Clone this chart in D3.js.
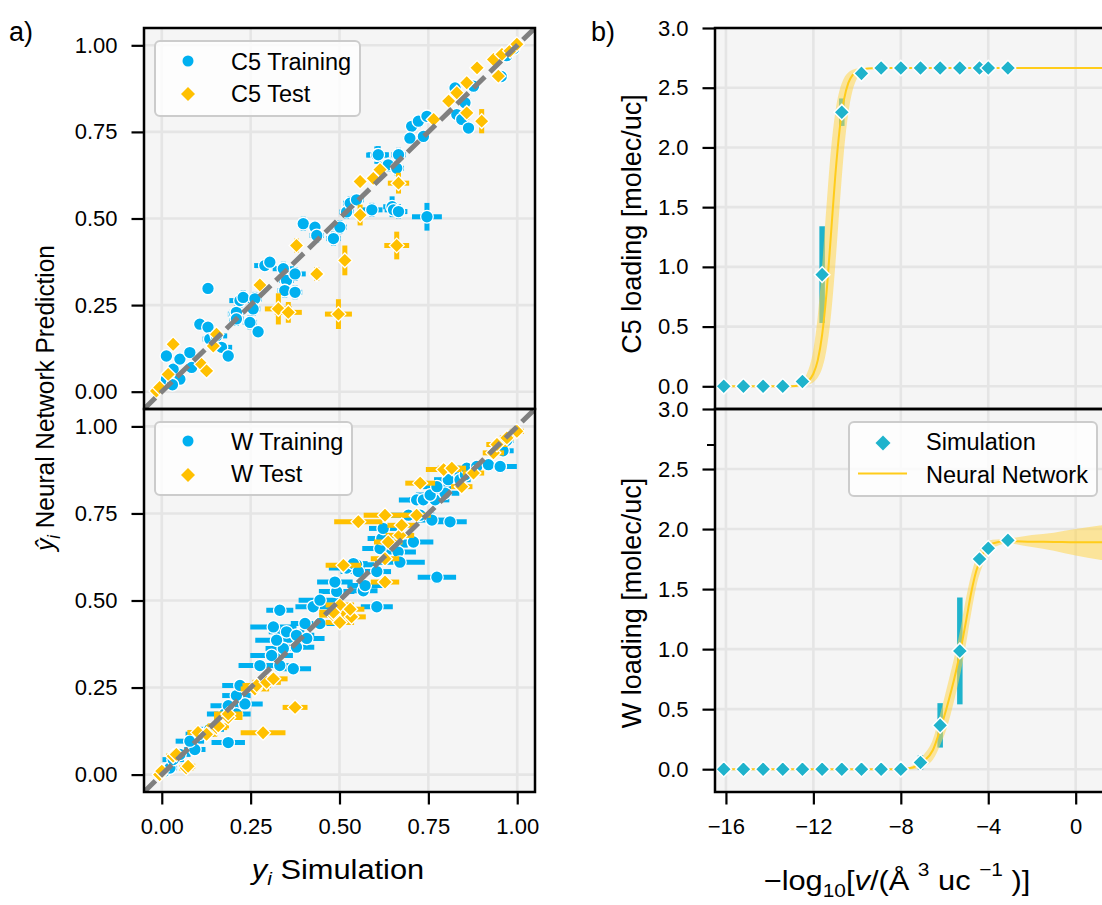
<!DOCTYPE html>
<html>
<head>
<meta charset="utf-8">
<script src="https://cdn.jsdelivr.net/npm/d3@7"></script>
<style>
  body { margin: 0; background: #fff; }
  svg { font-family: "Liberation Sans", Arial, sans-serif; }
</style>
</head>
<body>
<svg id="fig" width="1102" height="905"></svg>
<script>
// parity data: [simulation, prediction, x error, y error]
var c5Train = [
  [0.013, 0.036, 0.01, 0.01], [0.051, 0.036, 0.01, 0.01], [0.03, 0.02, 0.01, 0.01],
  [0.032, 0.065, 0.012, 0.012], [0.084, 0.07, 0.015, 0.012], [0.013, 0.103, 0.01, 0.01],
  [0.051, 0.094, 0.012, 0.012], [0.079, 0.113, 0.015, 0.015], [0.107, 0.195, 0.015, 0.015],
  [0.13, 0.186, 0.015, 0.015], [0.135, 0.152, 0.02, 0.015], [0.154, 0.161, 0.03, 0.015],
  [0.168, 0.128, 0.03, 0.015], [0.187, 0.103, 0.015, 0.015], [0.13, 0.298, 0.015, 0.015],
  [0.206, 0.224, 0.02, 0.02], [0.21, 0.229, 0.02, 0.02], [0.22, 0.263, 0.03, 0.02],
  [0.229, 0.272, 0.02, 0.02], [0.262, 0.268, 0.02, 0.02], [0.257, 0.239, 0.02, 0.02],
  [0.248, 0.2, 0.02, 0.02], [0.271, 0.173, 0.015, 0.015], [0.29, 0.364, 0.03, 0.015],
  [0.304, 0.374, 0.015, 0.015], [0.342, 0.355, 0.03, 0.02], [0.351, 0.321, 0.02, 0.02],
  [0.375, 0.34, 0.03, 0.02], [0.346, 0.292, 0.02, 0.02], [0.375, 0.287, 0.02, 0.02],
  [0.398, 0.485, 0.015, 0.02], [0.431, 0.475, 0.015, 0.015], [0.436, 0.451, 0.02, 0.02],
  [0.483, 0.442, 0.02, 0.02], [0.501, 0.475, 0.02, 0.02], [0.52, 0.519, 0.02, 0.02],
  [0.53, 0.544, 0.02, 0.02], [0.548, 0.554, 0.02, 0.015], [0.591, 0.525, 0.03, 0.02],
  [0.648, 0.534, 0.025, 0.03], [0.652, 0.525, 0.025, 0.02], [0.666, 0.52, 0.025, 0.02],
  [0.746, 0.505, 0.042, 0.04], [0.605, 0.683, 0.03, 0.025], [0.609, 0.684, 0.03, 0.025],
  [0.637, 0.655, 0.02, 0.02], [0.661, 0.645, 0.02, 0.02], [0.666, 0.684, 0.02, 0.02],
  [0.703, 0.766, 0.015, 0.015], [0.722, 0.781, 0.015, 0.015], [0.698, 0.732, 0.015, 0.015],
  [0.736, 0.737, 0.015, 0.015], [0.746, 0.795, 0.015, 0.015], [0.825, 0.877, 0.015, 0.015],
  [0.877, 0.882, 0.015, 0.015], [0.853, 0.834, 0.015, 0.015], [0.83, 0.8, 0.015, 0.015],
  [0.844, 0.786, 0.015, 0.015], [0.863, 0.761, 0.015, 0.015], [0.955, 0.91, 0.015, 0.015],
  [0.99, 0.99, 0.01, 0.01], [0.97, 0.97, 0.01, 0.01], [0.21, 0.21, 0.02, 0.02]
]
var c5Test = [
  [-0.015, 0.002, 0.01, 0.01], [-0.006, 0.012, 0.01, 0.01], [0.018, 0.05, 0.01, 0.01],
  [0.032, 0.137, 0.01, 0.01], [0.112, 0.079, 0.01, 0.01], [0.126, 0.06, 0.01, 0.01],
  [0.145, 0.132, 0.015, 0.015], [0.154, 0.166, 0.015, 0.015], [0.276, 0.308, 0.015, 0.015],
  [0.328, 0.239, 0.038, 0.045], [0.356, 0.229, 0.038, 0.03], [0.379, 0.422, 0.015, 0.02],
  [0.436, 0.34, 0.015, 0.02], [0.497, 0.224, 0.038, 0.043], [0.515, 0.379, 0.01, 0.043],
  [0.558, 0.51, 0.015, 0.03], [0.558, 0.607, 0.015, 0.015], [0.595, 0.616, 0.015, 0.015],
  [0.614, 0.641, 0.015, 0.015], [0.666, 0.602, 0.03, 0.03], [0.661, 0.422, 0.035, 0.04],
  [0.765, 0.786, 0.015, 0.015], [0.807, 0.839, 0.015, 0.015], [0.83, 0.863, 0.015, 0.015],
  [0.858, 0.892, 0.015, 0.015], [0.858, 0.805, 0.015, 0.02], [0.9, 0.781, 0.015, 0.035],
  [0.887, 0.935, 0.015, 0.015], [0.947, 0.911, 0.015, 0.015], [0.933, 0.959, 0.015, 0.015],
  [0.957, 0.974, 0.01, 0.01], [0.98, 0.984, 0.01, 0.01], [0.999, 1.003, 0.01, 0.01]
]
var wTrain = [
  [0.008, 0.01, 0.02, 0.01], [0.023, 0.019, 0.02, 0.01], [0.032, 0.043, 0.03, 0.01],
  [0.051, 0.058, 0.03, 0.01], [0.093, 0.072, 0.03, 0.01], [0.079, 0.096, 0.04, 0.01],
  [0.107, 0.116, 0.04, 0.01], [0.135, 0.13, 0.04, 0.01], [0.187, 0.092, 0.047, 0.01],
  [0.177, 0.174, 0.05, 0.01], [0.21, 0.174, 0.04, 0.01], [0.187, 0.198, 0.05, 0.01],
  [0.234, 0.203, 0.05, 0.01], [0.21, 0.227, 0.04, 0.01], [0.22, 0.256, 0.05, 0.01],
  [0.276, 0.313, 0.06, 0.01], [0.332, 0.313, 0.04, 0.01], [0.37, 0.304, 0.05, 0.01],
  [0.309, 0.342, 0.06, 0.01], [0.342, 0.362, 0.05, 0.01], [0.379, 0.366, 0.05, 0.01],
  [0.323, 0.386, 0.06, 0.01], [0.351, 0.41, 0.05, 0.01], [0.379, 0.4, 0.05, 0.01],
  [0.408, 0.391, 0.05, 0.01], [0.314, 0.424, 0.065, 0.01], [0.332, 0.472, 0.038, 0.01],
  [0.403, 0.434, 0.04, 0.01], [0.445, 0.434, 0.05, 0.01], [0.426, 0.482, 0.05, 0.01],
  [0.445, 0.501, 0.06, 0.01], [0.492, 0.526, 0.05, 0.01], [0.487, 0.553, 0.05, 0.01],
  [0.52, 0.593, 0.05, 0.01], [0.548, 0.603, 0.05, 0.01], [0.539, 0.606, 0.04, 0.01],
  [0.553, 0.583, 0.05, 0.01], [0.567, 0.528, 0.04, 0.01], [0.572, 0.543, 0.05, 0.01],
  [0.605, 0.482, 0.045, 0.01], [0.605, 0.583, 0.04, 0.01], [0.614, 0.649, 0.05, 0.01],
  [0.619, 0.678, 0.04, 0.01], [0.623, 0.707, 0.04, 0.01], [0.652, 0.659, 0.04, 0.01],
  [0.665, 0.639, 0.05, 0.01], [0.67, 0.61, 0.07, 0.01], [0.694, 0.745, 0.05, 0.01],
  [0.708, 0.668, 0.056, 0.01], [0.727, 0.745, 0.04, 0.01], [0.76, 0.731, 0.04, 0.01],
  [0.811, 0.726, 0.047, 0.01], [0.717, 0.789, 0.05, 0.01], [0.736, 0.789, 0.04, 0.01],
  [0.769, 0.789, 0.04, 0.01], [0.755, 0.803, 0.04, 0.01], [0.797, 0.808, 0.04, 0.01],
  [0.774, 0.827, 0.04, 0.01], [0.806, 0.847, 0.04, 0.01], [0.839, 0.847, 0.03, 0.01],
  [0.854, 0.861, 0.03, 0.01], [0.858, 0.88, 0.03, 0.01], [0.886, 0.885, 0.03, 0.01],
  [0.919, 0.89, 0.03, 0.01], [0.952, 0.885, 0.047, 0.01], [0.774, 0.567, 0.054, 0.01],
  [0.971, 0.96, 0.02, 0.01], [0.96, 0.93, 0.03, 0.01]
]
var wTest = [
  [-0.006, 0.0, 0.015, 0.01], [0.0, 0.01, 0.015, 0.01], [0.032, 0.053, 0.02, 0.01],
  [0.041, 0.058, 0.02, 0.01], [0.069, 0.019, 0.02, 0.01], [0.074, 0.024, 0.02, 0.01],
  [0.102, 0.121, 0.03, 0.01], [0.126, 0.116, 0.03, 0.01], [0.154, 0.135, 0.03, 0.01],
  [0.159, 0.14, 0.03, 0.01], [0.187, 0.164, 0.04, 0.01], [0.187, 0.174, 0.04, 0.01],
  [0.262, 0.246, 0.04, 0.01], [0.267, 0.256, 0.04, 0.01], [0.295, 0.265, 0.04, 0.01],
  [0.314, 0.275, 0.04, 0.01], [0.285, 0.12, 0.063, 0.01], [0.375, 0.193, 0.035, 0.01],
  [0.483, 0.458, 0.04, 0.01], [0.501, 0.487, 0.04, 0.01], [0.483, 0.466, 0.04, 0.01],
  [0.501, 0.437, 0.04, 0.01], [0.534, 0.453, 0.04, 0.01], [0.53, 0.475, 0.04, 0.01],
  [0.511, 0.601, 0.05, 0.01], [0.553, 0.726, 0.068, 0.01], [0.628, 0.745, 0.06, 0.01],
  [0.628, 0.62, 0.04, 0.01], [0.628, 0.553, 0.04, 0.01], [0.637, 0.668, 0.04, 0.01],
  [0.67, 0.687, 0.04, 0.01], [0.675, 0.716, 0.04, 0.01], [0.717, 0.745, 0.04, 0.01],
  [0.727, 0.837, 0.042, 0.01], [0.793, 0.876, 0.05, 0.01], [0.816, 0.88, 0.04, 0.01],
  [0.844, 0.827, 0.03, 0.01], [0.877, 0.866, 0.03, 0.01], [0.933, 0.924, 0.03, 0.01],
  [0.943, 0.948, 0.03, 0.01], [0.971, 0.967, 0.02, 0.01], [0.999, 0.986, 0.02, 0.01]
]

// isotherm data
var simX = [-16.1, -15.2, -14.3, -13.4, -12.5, -11.6, -10.7, -9.8, -8.9, -8.0, -7.1, -6.2, -5.3, -4.4, -4.0, -3.1]
var c5Sim = [0, 0, 0, 0, 0.04, 0.935, 2.295, 2.62, 2.665, 2.665, 2.665, 2.665, 2.665, 2.665, 2.665, 2.665]
var c5SimErr = [0, 0, 0, 0, 0.01, 0.405, 0.115, 0.01, 0, 0, 0, 0, 0, 0, 0, 0]
var wSim = [0, 0, 0, 0, 0, 0, 0, 0, 0, 0, 0.056, 0.365, 0.985, 1.75, 1.84, 1.906]
var wSimErr = [0, 0, 0, 0, 0, 0, 0, 0, 0, 0, 0.06, 0.185, 0.445, 0.02, 0.01, 0.01]

var nnC5X = [-16.5, -13, -12.6, -12.3, -12.0, -11.8, -11.6, -11.4, -11.2, -11.0, -10.8, -10.6, -10.4, -10.2, -10.0, -9.7, -9.3, -8.5, 5]
var nnC5 = [0, 0, 0.01, 0.034, 0.105, 0.217, 0.43, 0.78, 1.26, 1.757, 2.15, 2.40, 2.54, 2.607, 2.64, 2.655, 2.662, 2.665, 2.665]
var nnC5Lo = [0, 0, 0.004, 0.011, 0.034, 0.073, 0.152, 0.307, 0.585, 1.008, 1.51, 1.97, 2.29, 2.48, 2.58, 2.64, 2.66, 2.665, 2.665]
var nnC5Hi = [0, 0.007, 0.034, 0.105, 0.307, 0.585, 1.008, 1.51, 1.97, 2.29, 2.48, 2.58, 2.627, 2.65, 2.66, 2.665, 2.665, 2.665, 2.665]

var nnWX = [-16.5, -8.0, -7.45, -7.0, -6.53, -6.2, -5.92, -5.47, -5.27, -5.01, -4.78, -4.55, -4.25, -3.8, -3.11, -2, -1, 0, 1.1, 2.5]
var nnW = [0, 0, 0.014, 0.06, 0.16, 0.33, 0.5, 0.82, 0.99, 1.24, 1.47, 1.65, 1.79, 1.88, 1.90, 1.895, 1.893, 1.89, 1.89, 1.89]
var nnWLo = [0, 0, 0, 0.02, 0.08, 0.2, 0.33, 0.64, 0.8, 1.05, 1.3, 1.52, 1.70, 1.84, 1.88, 1.85, 1.82, 1.78, 1.745, 1.71]
var nnWHi = [0, 0, 0.03, 0.11, 0.25, 0.46, 0.66, 1.0, 1.17, 1.43, 1.62, 1.76, 1.86, 1.91, 1.92, 1.95, 1.97, 2.0, 2.03, 2.06]

var parityTicks = [0, 0.25, 0.5, 0.75, 1.0]
var loadTicks = [0, 0.5, 1, 1.5, 2, 2.5, 3]
var pressTicks = [-16, -12, -8, -4, 0]

var svg = d3.select("#fig")
var bg = "#f5f5f5", gridColor = "#e5e5e5"
var blue = "#00b0f0", orange = "#ffc000", teal = "#1fb3cc", gold = "#ffcc1a"
var tickFont = 22, labelFont = 27, legendFont = 23.5

var bgLayer = svg.append("g")
var dataLayer = svg.append("g")
var axisLayer = svg.append("g")

function diamond(r) {
  return "M0," + (-r) + "L" + r + ",0L0," + r + "L" + (-r) + ",0Z"
}

// one set of axes
function makePanel(id, xr, yr, xd, yd, xt, yt, xfmt, yfmt) {
  var x = d3.scaleLinear().domain(xd).range(xr)
  var y = d3.scaleLinear().domain(yd).range([yr[1], yr[0]])
  var w = xr[1] - xr[0], h = yr[1] - yr[0]

  bgLayer.append("rect").attr("x", xr[0]).attr("y", yr[0]).attr("width", w).attr("height", h).attr("fill", bg)
  bgLayer.append("g").selectAll("line").data(xt).join("line")
    .attr("x1", d => x(d)).attr("x2", d => x(d)).attr("y1", yr[0]).attr("y2", yr[1])
    .attr("stroke", gridColor).attr("stroke-width", 2.6)
  bgLayer.append("g").selectAll("line").data(yt).join("line")
    .attr("y1", d => y(d)).attr("y2", d => y(d)).attr("x1", xr[0]).attr("x2", xr[1])
    .attr("stroke", gridColor).attr("stroke-width", 2.6)

  svg.append("clipPath").attr("id", id).append("rect")
    .attr("x", xr[0]).attr("y", yr[0]).attr("width", w).attr("height", h)
  var g = dataLayer.append("g").attr("clip-path", "url(#" + id + ")")

  axisLayer.append("rect").attr("x", xr[0]).attr("y", yr[0]).attr("width", w).attr("height", h)
    .attr("fill", "none").attr("stroke", "#000").attr("stroke-width", 2.5)

  var ya = axisLayer.append("g").attr("transform", "translate(" + xr[0] + ",0)")
    .call(d3.axisLeft(y).tickValues(yt).tickFormat(yfmt).tickSize(12.5).tickPadding(14))
  styleAxis(ya)
  if (xfmt) {
    var xa = axisLayer.append("g").attr("transform", "translate(0," + yr[1] + ")")
      .call(d3.axisBottom(x).tickValues(xt).tickFormat(xfmt).tickSize(12.5).tickPadding(14))
    styleAxis(xa)
  }
  return {g: g, x: x, y: y, xr: xr, yr: yr}
}

function styleAxis(a) {
  a.attr("font-family", null).attr("font-size", null)
  a.select(".domain").remove()
  a.selectAll(".tick line").attr("stroke-width", 2.2)
  a.selectAll(".tick text").attr("font-size", tickFont).attr("fill", "#000")
}

function errorBars(p, data, color) {
  var g = p.g.append("g").attr("stroke", color).attr("stroke-width", 5)
  g.selectAll(".h").data(data).join("line").attr("class", "h")
    .attr("x1", d => p.x(d[0] - d[2])).attr("x2", d => p.x(d[0] + d[2]))
    .attr("y1", d => p.y(d[1])).attr("y2", d => p.y(d[1]))
  g.selectAll(".v").data(data).join("line").attr("class", "v")
    .attr("x1", d => p.x(d[0])).attr("x2", d => p.x(d[0]))
    .attr("y1", d => p.y(d[1] - d[3])).attr("y2", d => p.y(d[1] + d[3]))
}

function parity(p, train, test) {
  errorBars(p, train, blue)
  p.g.append("g").selectAll("circle").data(train).join("circle")
    .attr("cx", d => p.x(d[0])).attr("cy", d => p.y(d[1])).attr("r", 6.3)
    .attr("fill", blue).attr("stroke", "#fff").attr("stroke-width", 1.3)
  errorBars(p, test, orange)
  p.g.append("g").selectAll("path").data(test).join("path")
    .attr("transform", d => "translate(" + p.x(d[0]) + "," + p.y(d[1]) + ")")
    .attr("d", diamond(7.4))
    .attr("fill", orange).attr("stroke", "#fff").attr("stroke-width", 1.3)
  p.g.append("line")
    .attr("x1", p.x(-0.05)).attr("y1", p.y(-0.05)).attr("x2", p.x(1.05)).attr("y2", p.y(1.05))
    .attr("stroke", "#808080").attr("stroke-width", 5).attr("stroke-dasharray", "16,7")
}

function loading(p, sim, err, nnx, nn, lo, hi) {
  var pts = simX.map((v, i) => [v, sim[i], err[i]])
  p.g.append("g").selectAll("line").data(pts.filter(d => d[2] > 0.02)).join("line")
    .attr("x1", d => p.x(d[0])).attr("x2", d => p.x(d[0]))
    .attr("y1", d => p.y(d[1] - d[2])).attr("y2", d => p.y(d[1] + d[2]))
    .attr("stroke", teal).attr("stroke-width", 5.5)
  var band = nnx.map((v, i) => [v, nn[i], lo[i], hi[i]])
  var area = d3.area().curve(d3.curveMonotoneX)
    .x(d => p.x(d[0])).y0(d => p.y(d[2])).y1(d => p.y(d[3]))
  var line = d3.line().curve(d3.curveMonotoneX).x(d => p.x(d[0])).y(d => p.y(d[1]))
  p.g.append("path").datum(band).attr("d", area).attr("fill", "#ffd54f").attr("fill-opacity", 0.55)
  p.g.append("path").datum(band).attr("d", line).attr("fill", "none").attr("stroke", gold).attr("stroke-width", 2)
  p.g.append("g").selectAll("path").data(pts).join("path")
    .attr("transform", d => "translate(" + p.x(d[0]) + "," + p.y(d[1]) + ")")
    .attr("d", diamond(7.8))
    .attr("fill", teal).attr("stroke", "#fff").attr("stroke-width", 1.5)
}

function legendBox(x, y, w, h) {
  axisLayer.append("rect").attr("x", x).attr("y", y).attr("width", w).attr("height", h).attr("rx", 5)
    .attr("fill", "#fff").attr("fill-opacity", 0.8).attr("stroke", "#cccccc").attr("stroke-width", 2)
}

function legendText(x, y, s) {
  axisLayer.append("text").attr("x", x).attr("y", y).attr("font-size", legendFont).text(s)
}

var fmt2 = d3.format(".2f"), fmt1 = d3.format(".1f"), fmt0 = d3.format("d")
var rx = [715, 715 + 21 * 21.86]

var pC5 = makePanel("c1", [144, 535], [28, 409], [-0.05, 1.05], [-0.05, 1.05], parityTicks, parityTicks, null, fmt2)
var pW = makePanel("c2", [144, 535], [409, 792], [-0.05, 1.05], [-0.05, 1.05], parityTicks, parityTicks, fmt2, fmt2)
var qC5 = makePanel("c3", rx, [28, 409], [-16.5, 4.5], [-0.19, 3.0], pressTicks, loadTicks, null, fmt1)
var qW = makePanel("c4", rx, [409, 792], [-16.5, 4.5], [-0.19, 3.0], pressTicks, loadTicks, fmt0, fmt1)

parity(pC5, c5Train, c5Test)
parity(pW, wTrain, wTest)
loading(qC5, c5Sim, c5SimErr, nnC5X, nnC5, nnC5Lo, nnC5Hi)
loading(qW, wSim, wSimErr, nnWX, nnW, nnWLo, nnWHi)

// stray short tick on the lower isotherm axis
axisLayer.append("line").attr("x1", 707).attr("x2", 715).attr("y1", qW.y(2.7)).attr("y2", qW.y(2.7))
  .attr("stroke", "#000").attr("stroke-width", 2)

// legends
legendBox(155, 41, 205, 75)
axisLayer.append("circle").attr("cx", 188).attr("cy", 61).attr("r", 5.5).attr("fill", blue)
axisLayer.append("path").attr("transform", "translate(188,94)").attr("d", diamond(7)).attr("fill", orange)
legendText(231, 69.5, "C5 Training")
legendText(231, 102, "C5 Test")

legendBox(155, 422, 197, 73)
axisLayer.append("circle").attr("cx", 188).attr("cy", 441).attr("r", 5.5).attr("fill", blue)
axisLayer.append("path").attr("transform", "translate(188,475)").attr("d", diamond(7)).attr("fill", orange)
legendText(231, 449.5, "W Training")
legendText(231, 482, "W Test")

legendBox(849, 422, 248, 74)
axisLayer.append("path").attr("transform", "translate(883,443)").attr("d", diamond(7.5)).attr("fill", teal)
axisLayer.append("line").attr("x1", 858).attr("x2", 907).attr("y1", 473.5).attr("y2", 473.5)
  .attr("stroke", gold).attr("stroke-width", 2)
legendText(926, 449.5, "Simulation")
legendText(926, 482.5, "Neural Network")

// panel letters
svg.append("text").attr("x", 9).attr("y", 41).attr("font-size", 27).text("a)")
svg.append("text").attr("x", 591).attr("y", 41).attr("font-size", 27).text("b)")

// axis labels
var yl = svg.append("text").attr("transform", "translate(54,398) rotate(-90) scale(0.92,1)")
  .attr("text-anchor", "middle").attr("font-size", 26.5)
yl.append("tspan").attr("font-style", "italic").text("ŷ")
yl.append("tspan").attr("font-style", "italic").attr("font-size", 18).attr("dy", 6).text("i")
yl.append("tspan").attr("dy", -6).text(" Neural Network Prediction")

var xl = svg.append("text").attr("transform", "translate(338,879) scale(1.1,1)")
  .attr("text-anchor", "middle").attr("font-size", 28)
xl.append("tspan").attr("font-style", "italic").text("y")
xl.append("tspan").attr("font-style", "italic").attr("font-size", 19).attr("dy", 6).text("i")
xl.append("tspan").attr("dy", -6).text(" Simulation")

svg.append("text").attr("transform", "translate(641,224) rotate(-90)")
  .attr("text-anchor", "middle").attr("font-size", labelFont).text("C5 loading [molec/uc]")
svg.append("text").attr("transform", "translate(641,603) rotate(-90)")
  .attr("text-anchor", "middle").attr("font-size", labelFont).text("W loading [molec/uc]")

var pl = svg.append("text").attr("transform", "translate(897,890) scale(1.1,1)")
  .attr("text-anchor", "middle").attr("font-size", 28)
pl.append("tspan").text("−log")
pl.append("tspan").attr("font-size", 19).attr("dy", 7).text("10")
pl.append("tspan").attr("dy", -7).text("[")
pl.append("tspan").attr("font-style", "italic").text("v")
pl.append("tspan").text("/(Å ")
pl.append("tspan").attr("font-size", 19).attr("dy", -14).text("3")
pl.append("tspan").attr("dy", 14).text(" uc ")
pl.append("tspan").attr("font-size", 19).attr("dy", -14).text("−1")
pl.append("tspan").attr("dy", 14).text(" )]")
</script>
</body>
</html>
